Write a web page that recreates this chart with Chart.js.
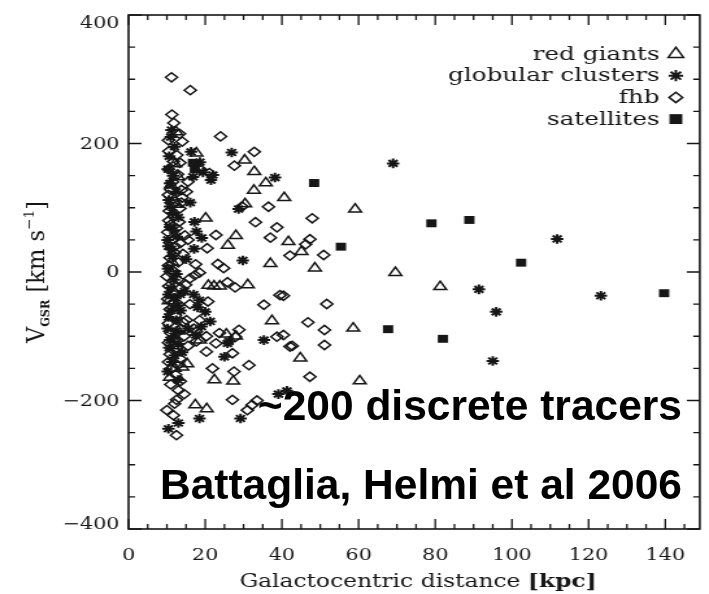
<!DOCTYPE html>
<html>
<head>
<meta charset="utf-8">
<script src="https://cdn.jsdelivr.net/npm/chart.js@4.4.1/dist/chart.umd.min.js"></script>
<style>
  html, body { margin: 0; padding: 0; background: #fff; }
  #wrap { position: relative; width: 709px; height: 594px; overflow: hidden; }
  /* the plot is drawn narrow and widened, like the printed figure */
  #plot { position: absolute; left: 0; top: 0; transform: scaleX(1.2985); transform-origin: 0 0; }
  .note { position: absolute; right: 27px; font: bold 42.5px "Liberation Sans", Arial, sans-serif;
          line-height: 42px; white-space: nowrap; color: #000; }
</style>
</head>
<body>
<div id="wrap">
  <canvas id="plot" width="546" height="594"></canvas>
  <div class="note" style="top:385px">~200 discrete tracers</div>
  <div class="note" style="top:464px">Battaglia, Helmi et al 2006</div>
</div>
<script>
// [distance kpc, V_GSR km/s]
const redGiants = [
  [59.1, 97.6], [69.6, -1], [81.3, -23], [58.6, -87.6], [60.3, -169.7], [44.8, -134], [48.6, 6],
  [41.7, 47], [45.1, 31.6], [40.6, 115.5], [17.7, 185], [30.3, 174], [32.8, 156], [35.8, 138.5],
  [32.7, 127], [30.4, 106], [28, 56.5], [25.9, 41.5], [20.1, 83.6], [37, 13], [20.8, -21],
  [22.3, -22], [23.8, -22], [31.1, -20], [37.4, -76], [28, -100], [25.5, -97], [15.3, -143],
  [22.4, -168], [27.3, -170], [10.8, -164], [17.4, -207], [20.4, -213], [12.1, 168], [12.9, 148],
  [11, 135], [11.5, -115], [12, -150], [10.5, -45], [11.4, 15], [12.5, 105], [13, -92],
  [18.6, -106], [12.4, 218], [14, -148]
];
const globularClusters = [
  [69, 169], [111.8, 51.4], [91.4, -27], [95.9, -62], [95, -138.5], [123.2, -37],
  [38.2, 147], [26.9, 186], [16.3, 187], [29.8, 18], [28.7, 98], [35.3, -106], [26.2, -108],
  [25, -132], [21.3, -77], [18.5, -44], [39.1, -190], [41.3, -185], [29.2, -228], [18.5, -228],
  [13, -235], [10.4, -244], [11.2, 221], [11, 210], [18.6, 171], [19.4, 155], [21.5, 143],
  [22, 151], [16.8, 148], [16.1, 108], [17.2, 78], [17.7, 63], [19.1, 53], [17.1, 36],
  [10.8, 102], [11.5, 92], [10.8, 70], [11.8, 65], [10.4, 40], [11.2, 35], [12.5, -3],
  [11, -25], [12, -40], [13.5, -35], [11, -60], [12.5, -75], [10.4, -70], [11.8, -100],
  [10.8, -106], [13, -112], [14, -125], [12, -130], [13.6, -60], [14.6, -30], [15, 20],
  [15.6, -88], [17, -35], [18, -55], [19, -85], [17.5, -98], [20, -62], [25.8, -111],
  [10.6, 180], [12, 195], [10.3, 160], [11.6, 150], [10.8, 138], [12.4, 125], [10.5, 112],
  [13, 85], [10.2, 50], [12.6, 55], [11.4, 25], [10.3, 5], [11.8, -12], [10.4, -35],
  [12.8, -52], [10.2, -88], [12.4, -92], [10.6, -118], [11.4, -140], [10.2, -155], [12.9, -168]
];
const fhbStars = [
  [47.9, 83.6], [47.3, 51], [46.2, 43], [42.1, 25.5], [50.9, 26.5], [51.7, -49.8], [46.8, -78.3],
  [51.1, -90.3], [51.1, -113.6], [42.7, -115], [47.3, -163], [40.4, -37], [40.4, -98],
  [11.2, 303], [16.1, 283], [11.3, 245], [13.3, 215], [14, 203], [24, 211], [10.5, 188],
  [32.8, 187], [27.6, 165.5], [36.5, 101.6], [33.1, 77.5], [38.7, 69.5], [37, 53.5], [22.8, 57.6],
  [20.5, 37], [29.6, 102], [18.5, -1], [17.3, -5], [23.3, 12.5], [24.8, 6], [25.8, -16],
  [27.8, -24], [39.5, -36], [14.9, -20], [13.4, 99], [15.1, 125], [14.7, 57], [12.5, 68],
  [15.5, 50], [13.8, 127.6], [15.5, 140.5], [18.5, 161], [21.1, 154], [11.7, 172],
  [35.3, -51], [38.7, -100.7], [42.1, -116], [31.4, -145], [28.8, -90], [27.9, -101],
  [23.7, -95], [22.8, -111], [27.1, -126.5], [20.3, -124], [17.7, -108], [17.7, -93],
  [20.7, -46], [15.1, -75], [21.9, -150], [27.5, -155], [13, -184], [12.5, -199], [10, -215],
  [11.7, -223], [12.5, -254], [27.1, -199], [31, -215], [32.2, -207], [33.5, -200],
  [10.4, 160], [12.8, 152], [11, 128], [14, 116], [10.4, 120], [12.2, 110], [10.6, 95],
  [11.8, 86], [10.5, 80], [10.2, 62], [11.5, 50], [13.5, 45], [12, 30], [10.8, 22], [13, 15],
  [10.4, 10], [11.6, 2], [10, -7], [12.8, -12], [10.5, -22], [11.8, -32], [10.2, -42],
  [13, -50], [10.8, -58], [12.2, -68], [10.4, -80], [13.6, -88], [11, -95], [10.4, -110],
  [12.5, -118], [10.8, -128], [13.5, -135], [11.2, -150], [10.4, -140], [12.3, -160],
  [16, -50], [18.5, -75], [17, -88], [20.3, -100], [15.5, -115], [16, -10], [17.5, 12],
  [13.5, -170], [14.5, -190], [11.8, 232], [10.4, 205], [12.6, 182], [13.4, 170], [11.5, 140],
  [13.8, 108], [11, 74], [13.2, 78], [12.1, 40], [14.2, 28], [11.2, -2], [13.6, -25],
  [11.5, -48], [14.2, -78], [12, -105], [14.5, -100], [12.8, -145], [11, -175], [12, -205]
];
const satellites = [
  [48.4, 138.5], [55.4, 39.4], [79, 75.8], [88.9, 81], [67.7, -89], [82, -104],
  [102.4, 14.5], [139.7, -33], [16.8, 170], [17.3, 160]
];

const legendNames = ['red giants', 'globular clusters', 'fhb', 'satellites'];

const xMin = 0, xMax = 149, xMajor = 20, xMinor = 5;
const yMin = -400, yMax = 400, yMajor = 200, yMinor = 50;

const ink = '#161616';
const serif = '"DejaVu Serif", "Liberation Serif", serif';

// marker look per population
const styles = {
  'red giants': { pointStyle: 'triangle', pointRadius: 5.6, borderWidth: 1.5, backgroundColor: 'rgba(0,0,0,0)' },
  'globular clusters': { pointStyle: 'star', pointRadius: 4.8, borderWidth: 2, backgroundColor: ink },
  'fhb': { pointStyle: 'rectRot', pointRadius: 4.6, borderWidth: 1.5, backgroundColor: 'rgba(0,0,0,0)' },
  'satellites': { pointStyle: 'rect', pointRadius: 5.6, borderWidth: 0, backgroundColor: ink }
};
const legendRadius = { 'red giants': 6.8, 'globular clusters': 5.6, 'fhb': 5.2, 'satellites': 7 };

function makeSet(name, pts) {
  const s = styles[name];
  return Object.assign({ label: name, data: pts, borderColor: ink }, s);
}

function tickText(v) {
  return v < 0 ? '\u2212' + Math.abs(v) : String(v);
}

// frame with inward ticks on all four sides, y labels, legend and axis titles
const framePlugin = {
  id: 'frame',
  afterDraw(chart) {
    const { ctx, chartArea: a, scales: { x, y } } = chart;
    ctx.save();
    ctx.strokeStyle = ink;
    ctx.lineWidth = 1.6;
    ctx.strokeRect(a.left, a.top, a.right - a.left, a.bottom - a.top);

    ctx.lineWidth = 1.3;
    ctx.beginPath();
    for (let v = xMin; v <= xMax; v += xMinor) {
      const px = x.getPixelForValue(v);
      const len = v % xMajor === 0 ? 10 : 5;
      ctx.moveTo(px, a.bottom); ctx.lineTo(px, a.bottom - len);
      ctx.moveTo(px, a.top); ctx.lineTo(px, a.top + len);
    }
    for (let v = yMin; v <= yMax; v += yMinor) {
      const py = y.getPixelForValue(v);
      const len = v % yMajor === 0 ? 10 : 5;
      ctx.moveTo(a.left, py); ctx.lineTo(a.left + len, py);
      ctx.moveTo(a.right, py); ctx.lineTo(a.right - len, py);
    }
    ctx.stroke();

    // y tick labels, the end ones kept inside the frame height
    ctx.fillStyle = ink;
    ctx.font = '16px ' + serif;
    ctx.textAlign = 'right';
    ctx.textBaseline = 'middle';
    y.ticks.forEach(t => {
      const py = Math.min(Math.max(y.getPixelForValue(t.value), a.top + 8), a.bottom - 5);
      ctx.fillText(tickText(t.value), a.left - 7, py + 1);
    });

    // legend: right-aligned names with the marker after them
    ctx.font = '19px ' + serif;
    ctx.textBaseline = 'alphabetic';
    legendNames.forEach((name, i) => {
      const cy = 54 + i * 21.7;
      ctx.fillStyle = ink;
      ctx.fillText(name, 508, cy + 5.5);
      const s = styles[name];
      ctx.fillStyle = s.backgroundColor;
      ctx.strokeStyle = ink;
      ctx.lineWidth = s.borderWidth;
      Chart.helpers.drawPoint(ctx, {
        pointStyle: s.pointStyle, radius: legendRadius[name], borderWidth: s.borderWidth, rotation: 0
      }, 520.5, cy);
    });

    // x title
    ctx.fillStyle = ink;
    ctx.textAlign = 'left';
    const cx = (a.left + a.right) / 2;
    ctx.font = '18px ' + serif;
    const t1 = 'Galactocentric distance ';
    const w1 = ctx.measureText(t1).width;
    ctx.font = 'bold 18px ' + serif;
    const t2 = '[kpc]';
    const w2 = ctx.measureText(t2).width;
    const sx = cx - (w1 + w2) / 2 + 3;
    ctx.font = '18px ' + serif;
    ctx.fillText(t1, sx, 587);
    ctx.font = 'bold 18px ' + serif;
    ctx.fillText(t2, sx + w1, 587);

    // y title, rotated, with subscript and superscript
    const parts = [
      { t: 'V', size: 18, dy: 0 },
      { t: 'GSR', size: 9, dy: 4, bold: true },
      { t: ' [km s', size: 18, dy: 0 },
      { t: '\u22121', size: 11, dy: -8 },
      { t: ']', size: 18, dy: 0 }
    ];
    let total = 0;
    parts.forEach(p => {
      ctx.font = (p.bold ? 'bold ' : '') + p.size + 'px ' + serif;
      p.w = ctx.measureText(p.t).width;
      total += p.w;
    });
    ctx.translate(34, (a.top + a.bottom) / 2);
    ctx.rotate(-Math.PI / 2);
    ctx.scale(1.25, 1);
    let tx = -total / 2;
    parts.forEach(p => {
      ctx.font = (p.bold ? 'bold ' : '') + p.size + 'px ' + serif;
      ctx.fillText(p.t, tx, p.dy);
      tx += p.w;
    });
    ctx.restore();
  }
};

new Chart(document.getElementById('plot'), {
  type: 'scatter',
  data: {
    datasets: [
      makeSet('satellites', satellites),
      makeSet('globular clusters', globularClusters),
      makeSet('red giants', redGiants),
      makeSet('fhb', fhbStars)
    ]
  },
  options: {
    responsive: false,
    animation: false,
    events: [],
    layout: { padding: { top: 15, right: 2, left: 0, bottom: 0 } },
    plugins: { legend: { display: false }, tooltip: { enabled: false } },
    scales: {
      x: {
        type: 'linear', min: xMin, max: xMax,
        afterFit: s => { s.height = 65; },
        grid: { display: false, drawTicks: false },
        border: { display: false },
        ticks: { stepSize: xMajor, includeBounds: false, padding: 17, maxRotation: 0, autoSkip: false,
                 color: ink, font: { family: serif, size: 16 } }
      },
      y: {
        type: 'linear', min: yMin, max: yMax,
        afterFit: s => { s.width = 99; },
        grid: { display: false, drawTicks: false },
        border: { display: false },
        ticks: { stepSize: yMajor, display: false }
      }
    }
  },
  plugins: [framePlugin]
});
</script>
</body>
</html>
